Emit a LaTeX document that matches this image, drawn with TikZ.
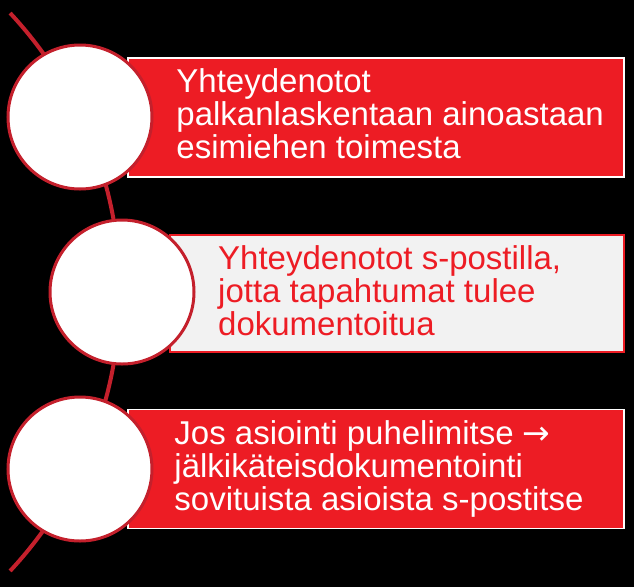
\documentclass[tikz,border=0pt]{standalone}
\usepackage{fontspec}
\setmainfont{Liberation Sans}
\newfontfamily\arrowfont{DejaVu Sans}
\usetikzlibrary{positioning,calc}
\definecolor{boxred}{RGB}{237,28,36}
\definecolor{ringred}{RGB}{196,32,44}
\definecolor{boxgray}{RGB}{242,242,242}
\tikzset{
  ring/.style={circle,draw=ringred,line width=3pt,fill=white,minimum size=144pt,inner sep=0pt},
  redbox/.style={rectangle,draw=white,line width=1.5pt,fill=boxred,minimum width=496pt,minimum height=119pt,inner sep=0pt},
  graybox/.style={rectangle,draw=boxred,line width=2pt,fill=boxgray,minimum width=454pt,minimum height=117pt,inner sep=0pt},
  boxtext/.style={align=left,inner sep=0pt,font=\fontsize{33}{33}\selectfont},
  spine/.style={ringred,line width=4pt}
}

\begin{document}
\begin{tikzpicture}[x=1pt,y=-1pt]
\fill[black] (0,0) rectangle (634,587);
\useasboundingbox (0,0) rectangle (634,587);
% bow behind the rings
\coordinate (hub) at (-289,292);
\draw[spine] ($(hub)+(-43:409)$) arc[start angle=-43,end angle=43,radius=409];
% boxes
\node[redbox] (r1) at (376,117.5) {};
\node[graybox] (r2) at (397,293) {};
\node[redbox] (r3) at (376,469) {};
% rings
\node[ring] (c1) at (80,117) {};
\node[ring] (c2) at (122,292) {};
\node[ring] (c3) at (80,469) {};
% texts
\node[boxtext,white,right=49pt of r1.west,yshift=3.5pt] (t1) {Yhteydenotot\\palkanlaskentaan ainoastaan\\esimiehen toimesta};
\node[boxtext,boxred,right=49pt of r2.west,yshift=2pt] (t2) {Yhteydenotot s-postilla,\\jotta tapahtumat tulee\\dokumentoitua};
\node[boxtext,white,right=47pt of r3.west,yshift=0.5pt] (t3) {Jos asiointi puhelimitse {\arrowfont →}\\jälkikäteisdokumentointi\\sovituista asioista s-postitse};
\end{tikzpicture}
\end{document}
